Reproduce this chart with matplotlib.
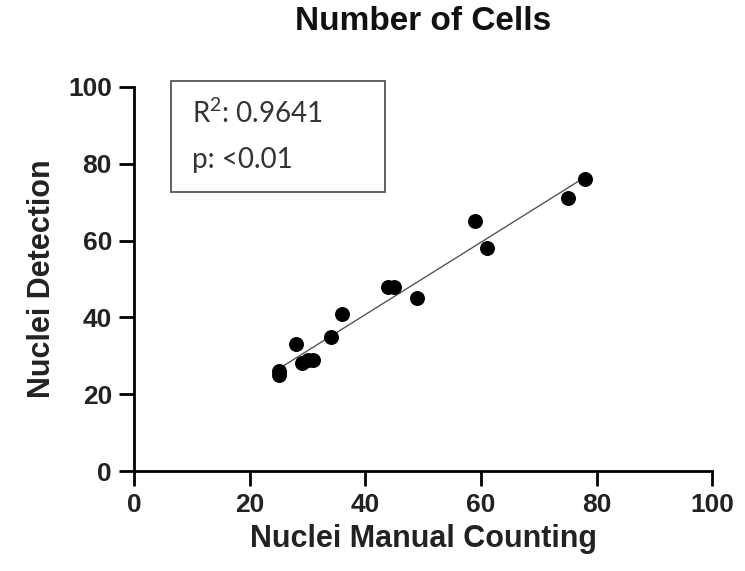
import numpy as np
import matplotlib
matplotlib.use("Agg")
import matplotlib.pyplot as plt
from matplotlib.patches import Rectangle

# Ручной подсчёт ядер vs автоматическое обнаружение
manual = [25, 25, 28, 29, 30, 31, 34, 36, 44, 45, 49, 59, 61, 75, 78]
detected = [26, 25, 33, 28, 29, 29, 35, 41, 48, 48, 45, 65, 58, 71, 76]
ticks = [0, 20, 40, 60, 80, 100]
r2_text = r"R$^{2}$: 0.9641"
p_text = "p: <0.01"

plt.rcParams['font.family'] = ['Liberation Sans', 'DejaVu Sans']
plt.rcParams['mathtext.fontset'] = 'custom'
plt.rcParams['mathtext.rm'] = 'Lato'
plt.rcParams['mathtext.it'] = 'Lato'
plt.rcParams['mathtext.default'] = 'regular'

fig = plt.figure(figsize=(7.45, 5.71), dpi=100)
ax = fig.add_axes([0.180, 0.175, 0.776, 0.673])

x = np.array(manual, dtype=float)
y = np.array(detected, dtype=float)

# Линия регрессии по данным
slope, intercept = np.polyfit(x, y, 1)
xs = np.array([x.min(), x.max()])
ax.plot(xs, slope * xs + intercept, color='#555555', linewidth=1.0, zorder=2)

ax.scatter(x, y, s=95, color='black', zorder=3)

ax.set_xlim(0, 100)
ax.set_ylim(0, 100)
ax.set_xticks(ticks)
ax.set_yticks(ticks)

for side in ['top', 'right']:
    ax.spines[side].set_visible(False)
for side in ['left', 'bottom']:
    ax.spines[side].set_linewidth(2.0)

ax.tick_params(axis='both', direction='out', length=11, width=2.0,
               labelsize=19, pad=5)
for lbl in ax.get_xticklabels() + ax.get_yticklabels():
    lbl.set_fontweight('bold')
    lbl.set_color('#222222')

ax.set_xlabel('Nuclei Manual Counting', fontsize=22, fontweight='bold',
              color='#222222', labelpad=5)
ax.set_ylabel('Nuclei Detection', fontsize=22, fontweight='bold',
              color='#222222', labelpad=8)

fig.text(0.568, 0.963, 'Number of Cells', fontsize=24, fontweight='bold',
         ha='center', va='center', color='#111111')

# Рамка с подписью статистики
box = Rectangle((0.064, 0.727), 0.370, 0.288, transform=ax.transAxes,
                fill=False, edgecolor='#555555', linewidth=1.3, clip_on=False)
ax.add_patch(box)
ax.text(0.100, 0.905, r2_text, transform=ax.transAxes, fontsize=20,
        family=['Lato', 'DejaVu Sans'], color='#333333', va='baseline')
ax.text(0.100, 0.788, p_text, transform=ax.transAxes, fontsize=20,
        family=['Lato', 'DejaVu Sans'], color='#333333', va='baseline')

fig.savefig('out.png', dpi=100)
plt.close(fig)
